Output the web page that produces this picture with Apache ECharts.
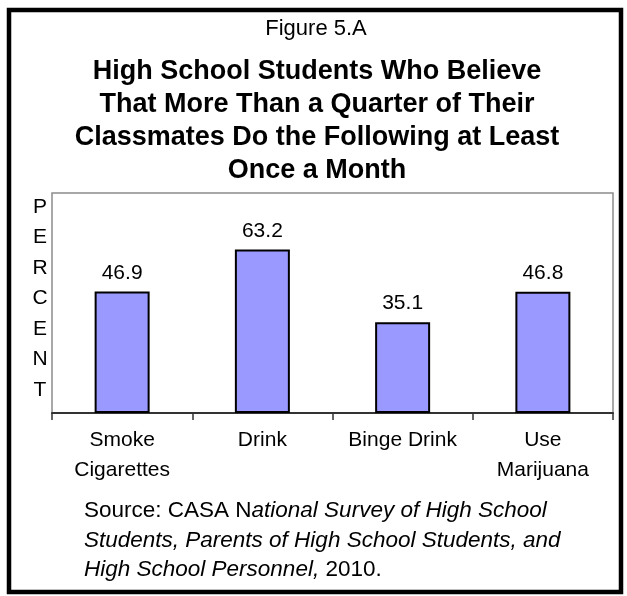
<!DOCTYPE html>
<html><head><meta charset="utf-8">
<script src="https://cdn.jsdelivr.net/npm/echarts@6/dist/echarts.min.js"></script>
<style>html,body{margin:0;padding:0;background:#fff}#c{width:627px;height:596px}</style>
</head><body><div id="c"></div>
<script>
const categories = ['Smoke\nCigarettes', 'Drink', 'Binge Drink', 'Use\nMarijuana'];
const values = [46.9, 63.2, 35.1, 46.8];
const figureLabel = 'Figure 5.A';
const titleLines = ['High School Students Who Believe', 'That More Than a Quarter of Their', 'Classmates Do the Following at Least', 'Once a Month'];
const yAxisName = 'PERCENT';
const sourceParts = [
  ['r', 'Source: CASA N'], ['i', 'ational Survey of High School'], ['n', '\n'],
  ['i', 'Students, Parents of High School Students, and'], ['n', '\n'],
  ['i', 'High School Personnel,'], ['r', ' 2010.']
];

const FONT = '"Liberation Sans", Arial, Helvetica, sans-serif';
const chart = echarts.init(document.getElementById('c'), null, {renderer: 'canvas'});

const sourceText = sourceParts.map(p => p[0] === 'n' ? '\n' : '{' + p[0] + '|' + p[1] + '}').join('');

chart.setOption({
  animation: false,
  backgroundColor: '#fff',
  grid: {left: 52, right: 14, top: 193, bottom: 183, show: true, borderColor: '#8c8c8c', borderWidth: 1.5, containLabel: false},
  xAxis: {
    type: 'category', data: categories,
    axisLine: {lineStyle: {color: '#333', width: 2}},
    axisTick: {show: true, length: 7, alignWithLabel: false, lineStyle: {color: '#333', width: 1.5}},
    axisLabel: {interval: 0, fontSize: 21, lineHeight: 30, margin: 12, color: '#000', fontFamily: FONT}
  },
  yAxis: {type: 'value', min: 0, max: 85, show: false},
  series: [{
    type: 'bar', data: values, barWidth: 55,
    itemStyle: {color: '#9999ff', borderColor: '#000', borderWidth: 2},
    label: {show: true, position: 'top', distance: 8, fontSize: 21, color: '#000', fontFamily: FONT,
      formatter: p => p.value.toFixed(1)}
  }],
  graphic: [
    {type: 'text', x: 316, y: 29, style: {text: figureLabel, fill: '#000', fontSize: 22, fontFamily: FONT, align: 'center', verticalAlign: 'middle'}},
    {type: 'text', x: 317, y: 121.5, style: {text: titleLines.join('\n'), fill: '#000', fontSize: 27, fontWeight: 'bold', lineHeight: 33, fontFamily: FONT, align: 'center', verticalAlign: 'middle'}},
    {type: 'text', x: 40, y: 298.5, style: {text: yAxisName.split('').join('\n'), fill: '#000', fontSize: 21, lineHeight: 30.5, fontFamily: FONT, align: 'center', verticalAlign: 'middle'}},
    {type: 'text', x: 84, y: 540.5, style: {text: sourceText, fill: '#000', fontSize: 22.5, lineHeight: 29.5, fontFamily: FONT, align: 'left', verticalAlign: 'middle',
      rich: {
        r: {fontSize: 22.5, lineHeight: 29.5, fontFamily: FONT, fill: '#000'},
        i: {fontSize: 22.5, lineHeight: 29.5, fontFamily: FONT, fontStyle: 'italic', fill: '#000'}
      }}},
    {type: 'rect', z: 100, shape: {x: 9, y: 10, width: 612, height: 582}, style: {fill: 'none', stroke: '#000', lineWidth: 4.5}}
  ]
});
</script>
</body></html>
